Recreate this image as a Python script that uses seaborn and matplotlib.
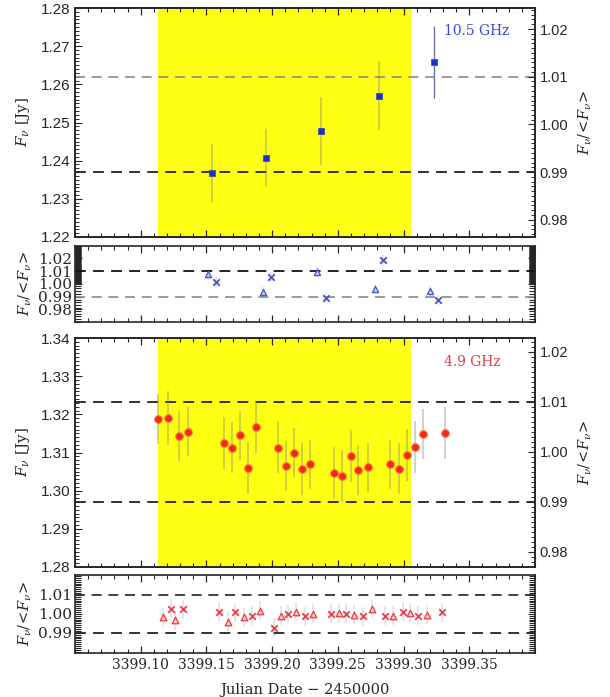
import numpy as np
import matplotlib
matplotlib.use('Agg')
import matplotlib.pyplot as plt
from matplotlib.ticker import FixedLocator, MultipleLocator, FormatStrFormatter, NullFormatter
import seaborn as sns

# 10.5 GHz light curve
jd_x = [3399.154, 3399.195, 3399.237, 3399.281, 3399.323]
flux_x = [1.2368, 1.2408, 1.2478, 1.2570, 1.2659]
err_x = [0.0075, 0.0075, 0.0090, 0.0090, 0.0094]
mean_x = 1.2495

# 10.5 GHz sub-scan ratios (triangles / crosses)
jd_x_tri = [3399.151, 3399.193, 3399.234, 3399.278, 3399.320]
res_x_tri = [1.0074, 0.9932, 1.0092, 0.9959, 0.9946]
jd_x_crs = [3399.157, 3399.199, 3399.241, 3399.284, 3399.326]
res_x_crs = [1.0012, 1.0052, 0.9887, 1.0188, 0.9874]

# 4.9 GHz light curve
jd_c = [3399.1134, 3399.1205, 3399.1294, 3399.1358, 3399.1634, 3399.1692, 3399.1756,
        3399.1814, 3399.1877, 3399.2043, 3399.2106, 3399.2167, 3399.2225, 3399.2288,
        3399.2473, 3399.2534, 3399.2598, 3399.2656, 3399.2727, 3399.2897, 3399.2965,
        3399.3024, 3399.3087, 3399.3150, 3399.3315]
flux_c = [1.3187, 1.3190, 1.3143, 1.3155, 1.3126, 1.3113, 1.3145, 1.3059, 1.3168,
          1.3113, 1.3065, 1.3100, 1.3056, 1.3069, 1.3047, 1.3039, 1.3090, 1.3054,
          1.3061, 1.3069, 1.3058, 1.3094, 1.3114, 1.3148, 1.3151]
err_c = [0.0065, 0.0070, 0.0065, 0.0065, 0.0068, 0.0068, 0.0065, 0.0068, 0.0068,
         0.0068, 0.0065, 0.0065, 0.0068, 0.0065, 0.0068, 0.0068, 0.0068, 0.0065,
         0.0065, 0.0065, 0.0068, 0.0068, 0.0068, 0.0065, 0.0068]
mean_c = 1.3102

# 4.9 GHz sub-scan ratios
jd_c_tri = [3399.1173, 3399.1261, 3399.1661, 3399.1785, 3399.1907, 3399.2067, 3399.2185,
            3399.2313, 3399.2505, 3399.2623, 3399.2756, 3399.2919, 3399.3052, 3399.3180]
res_c_tri = [0.9982, 0.9965, 0.9959, 0.9982, 1.0017, 0.9991, 1.0012,
             1.0000, 1.0003, 0.9996, 1.0026, 0.9991, 1.0003, 0.9995]
jd_c_crs = [3399.1232, 3399.1320, 3399.1596, 3399.1721, 3399.1847, 3399.2017, 3399.2120,
            3399.2253, 3399.2446, 3399.2559, 3399.2689, 3399.2860, 3399.2993, 3399.3112,
            3399.3295]
res_c_crs = [1.0026, 1.0023, 1.0012, 1.0009, 0.9991, 0.9926, 1.0000,
             0.9987, 1.0000, 1.0000, 0.9987, 0.9991, 1.0012, 0.9991, 1.0009]

span = (3399.113, 3399.306)
xlim = (3399.05, 3399.40)
xticks = [3399.10, 3399.15, 3399.20, 3399.25, 3399.30, 3399.35]

sns.set_style('ticks')
plt.rcParams['font.family'] = ['DejaVu Serif']
plt.rcParams['mathtext.fontset'] = 'dejavuserif'
plt.rcParams['axes.linewidth'] = 1.2

blue = '#1a2fd6'
red = '#f5261c'
yellow = '#ffff14'

fig = plt.figure(figsize=(6.1, 6.97), dpi=100)
L, W = 75 / 610, 460 / 610
ax1 = fig.add_axes([L, 1 - 237 / 697, W, 229 / 697])
ax2 = fig.add_axes([L, 1 - 322 / 697, W, 76.3 / 697])
ax3 = fig.add_axes([L, 1 - 567 / 697, W, 229 / 697])
ax4 = fig.add_axes([L, 1 - 652.7 / 697, W, 77.7 / 697])


def style_x(ax, labels):
    ax.set_xlim(*xlim)
    if labels:
        ax.set_xticks(xticks, [f'{v:.2f}' for v in xticks])
    else:
        ax.xaxis.set_major_locator(FixedLocator(xticks))
        ax.xaxis.set_major_formatter(NullFormatter())
    ax.xaxis.set_minor_locator(MultipleLocator(0.01))
    ax.tick_params(axis='x', which='both', direction='in', top=True, bottom=True)
    ax.tick_params(axis='x', which='major', length=5, width=0.9, labelsize=10)
    ax.tick_params(axis='x', which='minor', length=3, width=0.8)


# ---- top: 10.5 GHz
ax1.axvspan(*span, color=yellow, lw=0, zorder=0)
ax1.errorbar(jd_x[:4], flux_x[:4], yerr=err_x[:4], fmt='none', ecolor='#808080', alpha=0.4,
             elinewidth=1.3, zorder=2)
ax1.errorbar(jd_x[4:], flux_x[4:], yerr=err_x[4:], fmt='none', ecolor='#6a72a8', elinewidth=1.0, zorder=2)
sns.scatterplot(x=jd_x, y=flux_x, ax=ax1, marker='s', color=blue, s=14, edgecolor='#3040a0',
                linewidth=0.5, zorder=3)
ax1.axhline(mean_x * 1.01, color='#8a8a8a', ls=(0, (6, 4)), lw=1.2, zorder=1)
ax1.axhline(mean_x * 0.99, color='#222222', ls=(0, (6, 4)), lw=1.3, zorder=1)
ax1.set_ylim(1.22, 1.28)
ax1.text(0.874, 0.90, '10.5 GHz', transform=ax1.transAxes, color='#3a48d8', fontsize=10,
         ha='center', va='center')

# ---- bottom: 4.9 GHz
ax3.axvspan(*span, color=yellow, lw=0, zorder=0)
ax3.errorbar(jd_c, flux_c, yerr=err_c, fmt='none', ecolor='#808080', alpha=0.4,
             elinewidth=1.3, zorder=2)
sns.scatterplot(x=jd_c, y=flux_c, ax=ax3, marker='o', color=red, s=30, edgecolor='#ff7a30',
                linewidth=0.8, zorder=3)
ax3.axhline(mean_c * 1.01, color='#222222', ls=(0, (6, 4)), lw=1.3, zorder=1)
ax3.axhline(mean_c * 0.99, color='#222222', ls=(0, (6, 4)), lw=1.3, zorder=1)
ax3.set_ylim(1.28, 1.34)
ax3.text(0.863, 0.896, '4.9 GHz', transform=ax3.transAxes, color='#e8404a', fontsize=10,
         ha='center', va='center')

for ax, mean in [(ax1, mean_x), (ax3, mean_c)]:
    style_x(ax, False)
    ax.yaxis.set_major_locator(MultipleLocator(0.01))
    ax.yaxis.set_minor_locator(MultipleLocator(0.001))
    ax.yaxis.set_major_formatter(FormatStrFormatter('%.2f'))
    ax.tick_params(axis='y', which='both', direction='in', left=True, right=False)
    ax.tick_params(axis='y', which='major', length=5, labelsize=11)
    ax.tick_params(axis='y', which='minor', length=3, width=0.7)
    for t in ax.get_yticklabels():
        t.set_family('Liberation Sans')
    ax.set_ylabel(r'$F_\nu$ [Jy]', fontsize=11, labelpad=6)
    tw = ax.twinx()
    lo, hi = ax.get_ylim()
    tw.set_ylim(lo / mean, hi / mean)
    tw.yaxis.set_major_locator(FixedLocator([0.98, 0.99, 1.00, 1.01, 1.02]))
    tw.yaxis.set_minor_locator(MultipleLocator(0.001))
    tw.yaxis.set_major_formatter(FormatStrFormatter('%.2f'))
    tw.tick_params(axis='y', which='both', direction='in')
    tw.tick_params(axis='y', which='major', length=5, labelsize=10.5)
    tw.tick_params(axis='y', which='minor', length=3, width=0.7)
    for t in tw.get_yticklabels():
        t.set_family('Liberation Sans')
    tw.set_ylabel(r'$F_\nu/\!<\!F_\nu\!>$', fontsize=10.5, labelpad=6)

# ---- residual panels
ax2.errorbar(jd_x_tri, res_x_tri, yerr=0.004, fmt='none', ecolor='#e2e2ea', elinewidth=1.2, zorder=1)
ax2.errorbar(jd_x_crs, res_x_crs, yerr=0.004, fmt='none', ecolor='#e2e2ea', elinewidth=1.2, zorder=1)
sns.scatterplot(x=jd_x_tri, y=res_x_tri, ax=ax2, marker='^', s=20, color='#c0c8f4',
                edgecolor='#4454cc', linewidth=0.9, zorder=3)
sns.scatterplot(x=jd_x_crs, y=res_x_crs, ax=ax2, marker='x', s=22, color='#4454cc',
                linewidth=1.3, zorder=3)
ax2.axhline(1.01, color='#111111', ls=(0, (6, 4)), lw=1.3, zorder=1)
ax2.axhline(0.99, color='#8a8a8a', ls=(0, (6, 4)), lw=1.2, zorder=1)
ax2.set_ylim(0.97, 1.03)
ax2.set_yticks([0.98, 0.99, 1.00, 1.01, 1.02])
ax2.yaxis.set_minor_locator(FixedLocator(np.concatenate([np.arange(0.97, 1.0, 0.0022),
                                                         np.arange(1.0, 1.03, 0.0004)])))

ax4.errorbar(jd_c_tri, res_c_tri, yerr=0.005, fmt='none', ecolor='#e0e0e6', elinewidth=1.2, zorder=1)
ax4.errorbar(jd_c_crs, res_c_crs, yerr=0.005, fmt='none', ecolor='#e0e0e6', elinewidth=1.2, zorder=1)
sns.scatterplot(x=jd_c_tri, y=res_c_tri, ax=ax4, marker='^', s=22, color='#ffc8c8',
                edgecolor='#f03a3a', linewidth=0.9, zorder=3)
sns.scatterplot(x=jd_c_crs, y=res_c_crs, ax=ax4, marker='x', s=22, color='#f03a4a',
                linewidth=1.3, zorder=3)
ax4.axhline(1.01, color='#222222', ls=(0, (6, 4)), lw=1.2, zorder=1)
ax4.axhline(0.99, color='#222222', ls=(0, (6, 4)), lw=1.3, zorder=1)
ax4.set_ylim(0.9795, 1.0205)
ax4.set_yticks([0.99, 1.00, 1.01])
ax4.yaxis.set_minor_locator(MultipleLocator(0.001))

for ax in (ax2, ax4):
    ax.yaxis.set_major_formatter(FormatStrFormatter('%.2f'))
    ax.tick_params(axis='y', which='both', direction='in', left=True, right=True)
    ax.tick_params(axis='y', which='major', length=5, labelsize=11, pad=2)
    ax.tick_params(axis='y', which='minor', length=4, width=0.8)
    ax.set_ylabel(r'$F_\nu/\!<\!F_\nu\!>$', fontsize=10.5, labelpad=3)

style_x(ax2, False)
style_x(ax4, True)
ax4.set_xlabel('Julian Date \u2212 2450000', fontsize=10.5, labelpad=8)

fig.savefig('out.png', dpi=100)
